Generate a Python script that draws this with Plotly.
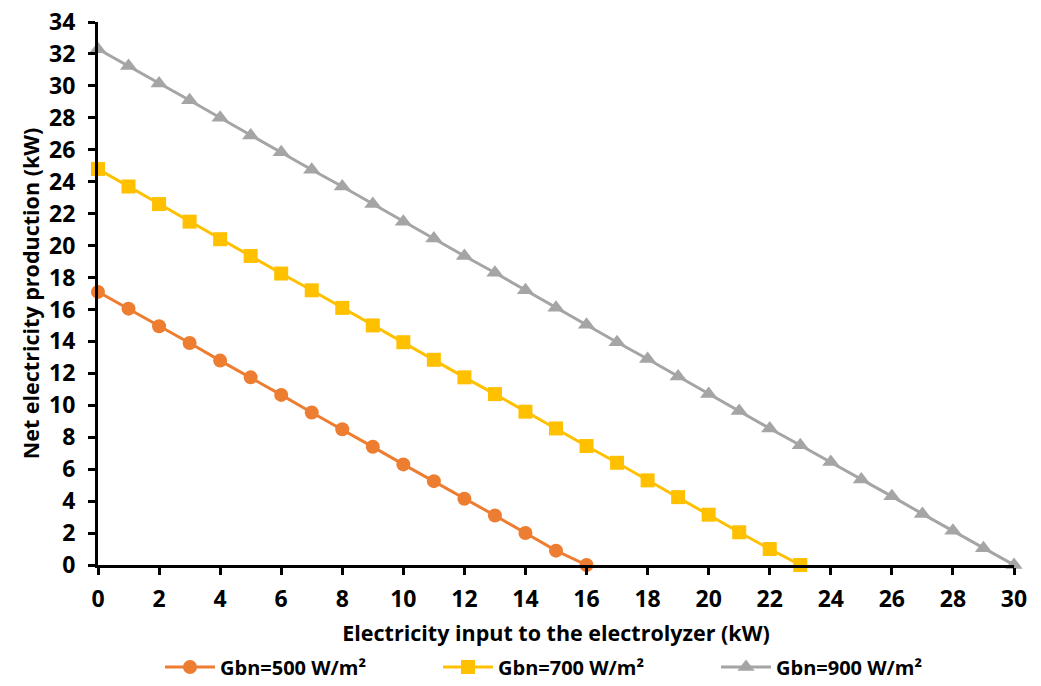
import plotly.graph_objects as go

x500 = list(range(0, 17))
y500 = [17.1, 16.05, 14.95, 13.9, 12.8, 11.75, 10.65, 9.55, 8.5, 7.4, 6.3, 5.25, 4.15, 3.1, 2.0, 0.9, 0.0]

x700 = list(range(0, 24))
y700 = [24.8, 23.7, 22.6, 21.5, 20.4, 19.35, 18.25, 17.2, 16.1, 15.0, 13.95, 12.85, 11.75,
        10.7, 9.6, 8.55, 7.45, 6.4, 5.3, 4.25, 3.15, 2.05, 1.0, 0.0]

x900 = list(range(0, 31))
y900 = [32.3, 31.25, 30.15, 29.1, 28.0, 26.9, 25.85, 24.75, 23.7, 22.6, 21.5, 20.45, 19.35,
        18.3, 17.2, 16.1, 15.05, 13.95, 12.9, 11.8, 10.7, 9.65, 8.55, 7.5, 6.45, 5.35, 4.3,
        3.2, 2.15, 1.05, 0.0]

names = ["Gbn=500 W/m²", "Gbn=700 W/m²", "Gbn=900 W/m²"]
colors = ["#ED7D31", "#FFC000", "#A5A5A5"]
symbols = ["circle", "square", "triangle-up"]
sizes = [14, 14, 15]

FONT = "Open Sans"

fig = go.Figure()
for xs, ys, n, c, s, sz in zip([x500, x700, x900], [y500, y700, y900], names, colors, symbols, sizes):
    fig.add_trace(go.Scatter(x=xs, y=ys, name=n, mode="lines+markers",
                             line=dict(color=c, width=3),
                             marker=dict(symbol=s, size=sz, color=c),
                             cliponaxis=False))

fig.update_layout(
    width=1041, height=686,
    margin=dict(l=98, r=27, t=22, b=121, autoexpand=False),
    paper_bgcolor="white", plot_bgcolor="white",
    font=dict(family=FONT, color="black"),
    showlegend=True,
    legend=dict(orientation="h", x=160 / 1041, xanchor="left", xref="container",
                y=1 - 667 / 686, yanchor="middle", yref="container",
                font=dict(size=20, family=FONT, weight="bold"), itemwidth=50,
                entrywidth=213, entrywidthmode="pixels",
                traceorder="normal", tracegroupgap=0),
    xaxis=dict(range=[0, 30], tickmode="linear", tick0=0, dtick=2,
               showline=True, linecolor="black", linewidth=3,
               ticks="outside", tickcolor="black", tickwidth=3, ticklen=7,
               showgrid=False, zeroline=False, automargin=False,
               ticklabelstandoff=4,
               tickfont=dict(size=23, family=FONT, weight="bold"),
               title=dict(text="Electricity input to the electrolyzer (kW)",
                          font=dict(size=21.5, family=FONT, weight="bold"), standoff=20)),
    yaxis=dict(range=[0, 34], tickmode="linear", tick0=0, dtick=2,
               showline=True, linecolor="black", linewidth=3,
               ticks="outside", tickcolor="black", tickwidth=3, ticklen=7,
               showgrid=False, zeroline=False, automargin=False,
               ticklabelstandoff=8,
               tickfont=dict(size=23, family=FONT, weight="bold"),
               title=dict(text="Net electricity production (kW)",
                          font=dict(size=21.5, family=FONT, weight="bold"), standoff=4)),
)

fig.write_html("out.html")
